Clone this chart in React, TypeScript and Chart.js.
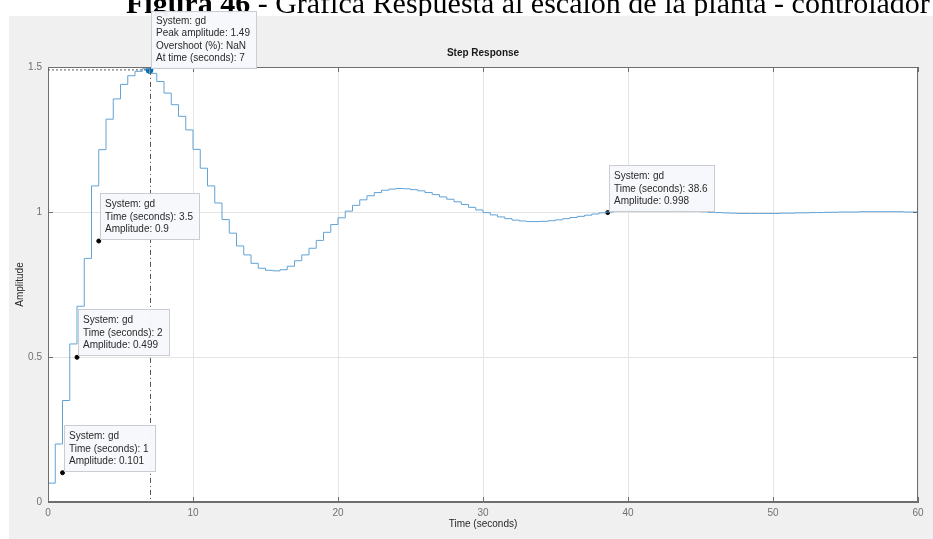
import React, { useEffect, useRef } from "react";
import { Chart, registerables } from "chart.js";

Chart.register(...registerables);

// Sample times (s) and step-response amplitudes
const times = [
  0, 0.5, 1, 1.5, 2, 2.5, 3, 3.5, 4, 4.5, 5, 5.5, 6, 6.5, 7, 7.5, 8, 8.5, 9, 9.5,
  10, 10.5, 11, 11.5, 12, 12.5, 13, 13.5, 14, 14.5, 15, 15.5, 16, 16.5, 17, 17.5, 18, 18.5, 19, 19.5,
  20, 20.5, 21, 21.5, 22, 22.5, 23, 23.5, 24, 24.5, 25, 25.5, 26, 26.5, 27, 27.5, 28, 28.5, 29, 29.5,
  30, 30.5, 31, 31.5, 32, 32.5, 33, 33.5, 34, 34.5, 35, 35.5, 36, 36.5, 37, 37.5, 38, 38.5, 39, 39.5,
  40, 40.5, 41, 41.5, 42, 42.5, 43, 43.5, 44, 44.5, 45, 45.5, 46, 46.5, 47, 47.5, 48, 48.5, 49, 49.5,
  50, 50.5, 51, 51.5, 52, 52.5, 53, 53.5, 54, 54.5, 55, 55.5, 56, 56.5, 57, 57.5, 58, 58.5, 59, 59.5,
  60,
];
const amplitudes = [
  0, 0.065, 0.2, 0.35, 0.545, 0.675, 0.84, 1.09, 1.215, 1.32, 1.39, 1.44, 1.47, 1.485, 1.494, 1.478, 1.45, 1.41, 1.37, 1.33,
  1.283, 1.216, 1.151, 1.09, 1.031, 0.974, 0.927, 0.883, 0.852, 0.823, 0.806, 0.799, 0.797, 0.801, 0.813, 0.832, 0.852, 0.875, 0.902, 0.93,
  0.957, 0.98, 1.003, 1.023, 1.042, 1.056, 1.067, 1.075, 1.079, 1.081, 1.08, 1.077, 1.073, 1.067, 1.06, 1.052, 1.044, 1.035, 1.026, 1.016,
  1.007, 0.998, 0.99, 0.983, 0.977, 0.972, 0.969, 0.967, 0.967, 0.968, 0.97, 0.973, 0.977, 0.981, 0.985, 0.989, 0.993, 0.997, 1.0, 1.003,
  1.005, 1.006, 1.007, 1.008, 1.008, 1.008, 1.007, 1.006, 1.005, 1.004, 1.002, 1.001, 0.999, 0.998, 0.997, 0.996, 0.995, 0.995, 0.995, 0.995,
  0.995, 0.995, 0.996, 0.996, 0.997, 0.997, 0.998, 0.998, 0.999, 0.999, 1.0, 1.0, 1.0, 1.001, 1.001, 1.001, 1.001, 1.001, 1.001, 1.0,
  1.0,
];

// Data tips
const tipTimes = [1, 2, 3.5, 38.6];
const tipAmps = [0.101, 0.499, 0.9, 0.998];
const tipLabels = [
  ["System: gd", "Time (seconds): 1", "Amplitude: 0.101"],
  ["System: gd", "Time (seconds): 2", "Amplitude: 0.499"],
  ["System: gd", "Time (seconds): 3.5", "Amplitude: 0.9"],
  ["System: gd", "Time (seconds): 38.6", "Amplitude: 0.998"],
];
const peakTime = [7];
const peakAmp = [1.49];
const peakLabel = ["System: gd", "Peak amplitude: 1.49", "Overshoot (%): NaN", "At time (seconds): 7"];

const xTicksStep = 10;
const yTicksStep = 0.5;

const FONT = "'Liberation Sans', Arial, Helvetica, sans-serif";

const decorPlugin = {
  id: "decor",
  beforeDraw(chart: any) {
    const { ctx, width, height, chartArea } = chart;
    ctx.save();
    ctx.fillStyle = "#ffffff";
    ctx.fillRect(0, 0, width, height);
    // caption (cut at top, partly hidden under the figure)
    ctx.fillStyle = "#000";
    ctx.textBaseline = "alphabetic";
    ctx.textAlign = "left";
    ctx.font = "bold 30px 'Liberation Serif', 'Times New Roman', serif";
    const a = "Figura 46";
    ctx.fillText(a, 126, 13);
    const w = ctx.measureText(a).width;
    ctx.font = "30px 'Liberation Serif', 'Times New Roman', serif";
    ctx.fillText(" - Gráfica Respuesta al escalón de la planta - controlador", 126 + w, 13);
    // figure panel
    ctx.fillStyle = "#f0f0f0";
    ctx.fillRect(9, 16, width - 9, height - 16);
    ctx.fillStyle = "#ffffff";
    ctx.fillRect(chartArea.left, chartArea.top, chartArea.right - chartArea.left, chartArea.bottom - chartArea.top);
    // title
    ctx.fillStyle = "#1a1a1a";
    ctx.font = "bold 10px " + FONT;
    ctx.textAlign = "center";
    ctx.textBaseline = "middle";
    ctx.fillText("Step Response", (chartArea.left + chartArea.right) / 2, 53);
    ctx.restore();
  },
  afterDatasetsDraw(chart: any) {
    const { ctx, chartArea } = chart;
    const xs = chart.scales.x;
    const ys = chart.scales.y;
    ctx.save();
    // box
    ctx.strokeStyle = "#6e6e6e";
    ctx.lineWidth = 1;
    ctx.strokeRect(chartArea.left + 0.5, chartArea.top + 0.5, chartArea.right - chartArea.left - 1, chartArea.bottom - chartArea.top - 1);
    // inward ticks
    ctx.beginPath();
    for (let v = xs.min; v <= xs.max + 1e-9; v += xTicksStep) {
      const px = Math.round(xs.getPixelForValue(v)) + 0.5;
      ctx.moveTo(px, chartArea.bottom);
      ctx.lineTo(px, chartArea.bottom - 5);
      ctx.moveTo(px, chartArea.top);
      ctx.lineTo(px, chartArea.top + 5);
    }
    for (let v = ys.min; v <= ys.max + 1e-9; v += yTicksStep) {
      const py = Math.round(ys.getPixelForValue(v)) + 0.5;
      ctx.moveTo(chartArea.left, py);
      ctx.lineTo(chartArea.left + 5, py);
      ctx.moveTo(chartArea.right, py);
      ctx.lineTo(chartArea.right - 5, py);
    }
    ctx.stroke();

    // peak guide lines
    const pxp = xs.getPixelForValue(peakTime[0]);
    const pyp = ys.getPixelForValue(peakAmp[0]);
    ctx.strokeStyle = "#555";
    ctx.setLineDash([2, 2]);
    ctx.beginPath();
    ctx.moveTo(chartArea.left, pyp);
    ctx.lineTo(pxp, pyp);
    ctx.stroke();
    ctx.setLineDash([5, 3, 1, 3]);
    ctx.beginPath();
    ctx.moveTo(Math.round(pxp) + 0.5, pyp);
    ctx.lineTo(Math.round(pxp) + 0.5, chartArea.bottom);
    ctx.stroke();
    ctx.setLineDash([]);

    const drawTip = (t: number, a: number, lines: string[]) => {
      const px = xs.getPixelForValue(t);
      const py = ys.getPixelForValue(a);
      ctx.font = "10px " + FONT;
      let maxW = 0;
      lines.forEach((l) => (maxW = Math.max(maxW, ctx.measureText(l).width)));
      const bw = Math.round(maxW + 12);
      const bh = lines.length === 4 ? 58 : 47;
      const bx = Math.round(px) + 1;
      const by = Math.round(py) - 1 - bh;
      ctx.fillStyle = "rgba(247,248,251,0.96)";
      ctx.fillRect(bx, by, bw, bh);
      ctx.strokeStyle = "#c9ccd2";
      ctx.strokeRect(bx + 0.5, by + 0.5, bw - 1, bh - 1);
      ctx.fillStyle = "#2a2a2a";
      ctx.textAlign = "left";
      ctx.textBaseline = "middle";
      const step = lines.length === 4 ? 12.4 : 12.3;
      const start = lines.length === 4 ? 10 : 11.5;
      lines.forEach((l, i) => ctx.fillText(l, bx + 5, by + start + i * step));
    };
    for (let i = 0; i < tipTimes.length; i++) drawTip(tipTimes[i], tipAmps[i], tipLabels[i]);
    drawTip(peakTime[0], peakAmp[0], peakLabel);
    ctx.restore();
  },
};

export default function App() {
  const ref = useRef<HTMLCanvasElement | null>(null);
  useEffect(() => {
    document.body.style.margin = "0";
    if (!ref.current) return;
    const chart = new Chart(ref.current, {
      type: "line",
      data: {
        datasets: [
          {
            label: "gd",
            data: times.map((t, i) => ({ x: t, y: amplitudes[i] })),
            borderColor: "#62a3d6",
            borderWidth: 1,
            pointRadius: 0,
            stepped: "after",
            fill: false,
          },
          {
            type: "scatter",
            label: "tips",
            data: tipTimes.map((t, i) => ({ x: t, y: tipAmps[i] })),
            pointRadius: 2,
            pointBackgroundColor: "#000",
            pointBorderColor: "#000",
            showLine: false,
          },
          {
            type: "scatter",
            label: "peak",
            data: peakTime.map((t, i) => ({ x: t, y: peakAmp[i] })),
            pointRadius: 3.5,
            pointBackgroundColor: "#0072BD",
            pointBorderColor: "#0072BD",
            showLine: false,
          },
        ],
      },
      options: {
        animation: false,
        responsive: false,
        layout: { padding: { top: 67, right: 15, left: 0, bottom: 0 } },
        plugins: { legend: { display: false }, tooltip: { enabled: false }, title: { display: false } },
        scales: {
          x: {
            type: "linear",
            min: 0,
            max: 60,
            ticks: { stepSize: xTicksStep, color: "#707070", font: { family: FONT, size: 10 }, padding: 5, maxRotation: 0, callback: (v: any) => String(v) },
            grid: { color: "#e4e4e4", drawTicks: false },
            border: { color: "#6e6e6e" },
            title: { display: true, text: "Time (seconds)", color: "#262626", font: { family: FONT, size: 10 }, padding: { top: 0, bottom: 9 } },
            afterFit: (s: any) => {
              s.height = 37;
            },
          },
          y: {
            min: 0,
            max: 1.5,
            ticks: { stepSize: yTicksStep, color: "#707070", font: { family: FONT, size: 10 }, padding: 6, callback: (v: any) => String(v) },
            grid: { color: "#e4e4e4", drawTicks: false },
            border: { color: "#6e6e6e" },
            title: { display: true, text: "Amplitude", color: "#262626", font: { family: FONT, size: 10 }, padding: { top: 14, bottom: 0 } },
            afterFit: (s: any) => {
              s.width = 48;
            },
          },
        },
      },
      plugins: [decorPlugin],
    });
    return () => chart.destroy();
  }, []);
  return (
    <div style={{ position: "absolute", left: 0, top: 0, width: 933, height: 539 }}>
      <canvas ref={ref} width={933} height={539} style={{ width: 933, height: 539, display: "block" }} />
    </div>
  );
}
